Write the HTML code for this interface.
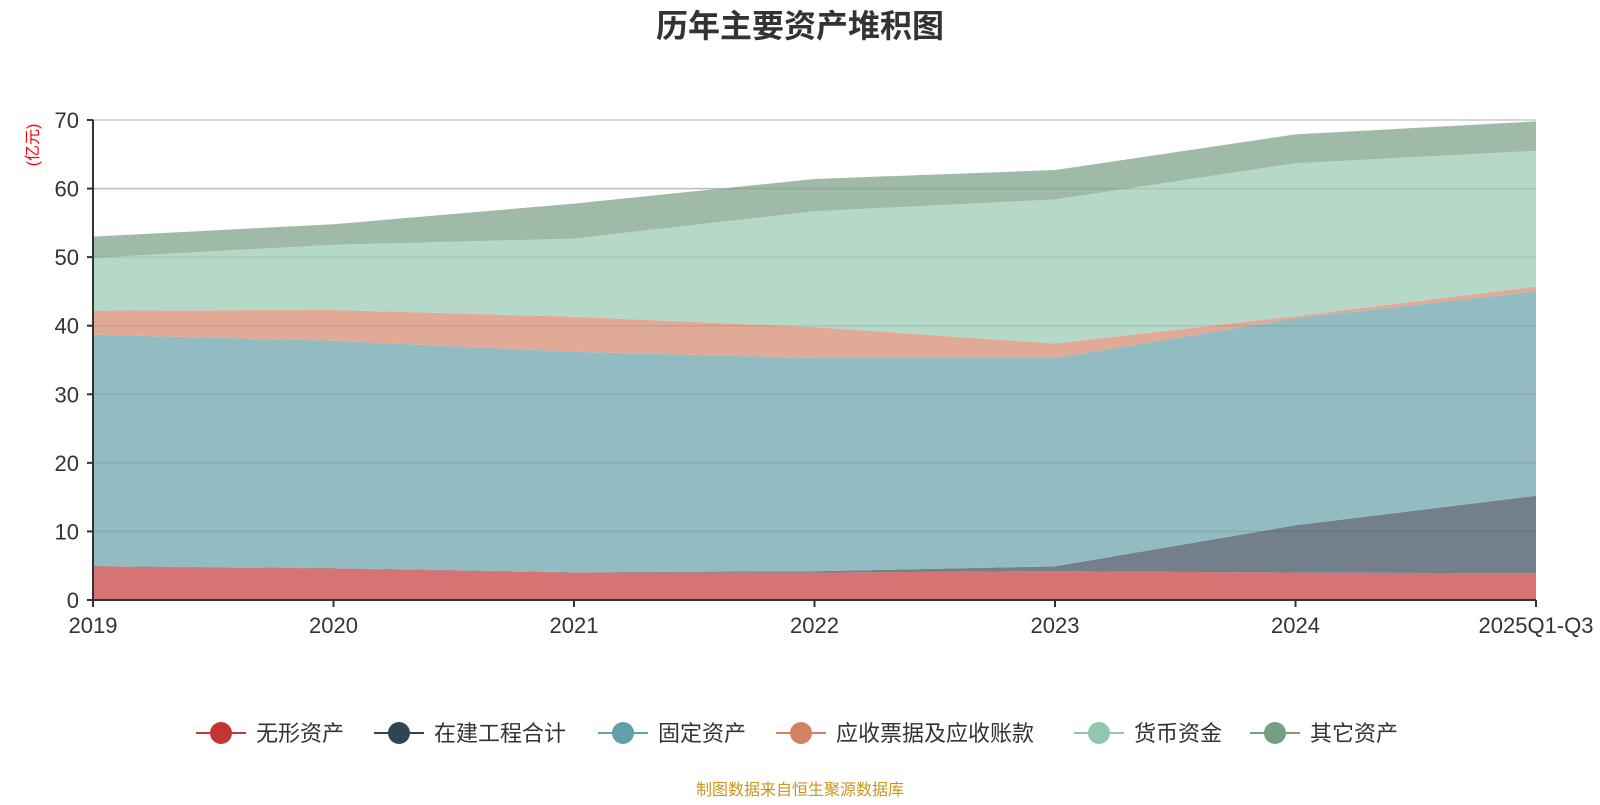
<!DOCTYPE html>
<html><head><meta charset="utf-8"><style>
body{margin:0;background:#fff;width:1600px;height:800px;overflow:hidden;font-family:"Liberation Sans","Noto Sans CJK SC",sans-serif}
</style></head><body>
<svg id="c" width="1600" height="800" xmlns="http://www.w3.org/2000/svg">
<text x="800" y="37" text-anchor="middle" font-size="32" font-weight="bold" fill="#333" font-family="Liberation Sans, Noto Sans CJK SC, sans-serif">历年主要资产堆积图</text>
<text transform="translate(38,145) rotate(-90)" text-anchor="middle" font-size="16" fill="#f00" font-family="Liberation Sans, Noto Sans CJK SC, sans-serif">(亿元)</text>
<g id="grid"></g><g id="areas"></g><g id="axes"></g><g id="legend"></g>
<text x="800" y="795" text-anchor="middle" font-size="16" fill="#c8961e" font-family="Liberation Sans, Noto Sans CJK SC, sans-serif">制图数据来自恒生聚源数据库</text>
</svg>
<script>
const categories=["2019","2020","2021","2022","2023","2024","2025Q1-Q3"];
const seriesNames=["无形资产","在建工程合计","固定资产","应收票据及应收账款","货币资金","其它资产"];
const s0=[4.9,4.6,4.0,4.0,4.2,4.0,3.9];
const s1=[0.05,0.05,0.05,0.2,0.7,6.9,11.3];
const s2=[33.75,33.15,32.15,31.1,30.4,30.2,29.8];
const s3=[3.5,4.5,5.1,4.5,2.1,0.3,0.7];
const s4=[7.7,9.5,11.4,16.9,21.0,22.3,19.8];
const s5=[3.1,3.0,5.1,4.7,4.3,4.2,4.3];
const yTicks=[0,10,20,30,40,50,60,70];
const series=[s0,s1,s2,s3,s4,s5];
const fills=["#d4706e","#6e7b87","#90b9c0","#e0a793","#b3d7c6","#9db8a5"];
const icons=["#c23531","#2f4554","#61a0a8","#d48265","#91c7ae","#749f83"];
const X0=93,X1=1536,Y0=600,Y1=120,YMAX=70;
const NS="http://www.w3.org/2000/svg";
const xs=i=>X0+(X1-X0)*i/(categories.length-1);
const ys=v=>Y0-(Y0-Y1)*v/YMAX;
function mk(t,a,p){const e=document.createElementNS(NS,t);for(const k in a)e.setAttribute(k,a[k]);p.appendChild(e);return e;}
const grid=document.getElementById('grid'),areas=document.getElementById('areas'),axes=document.getElementById('axes'),leg=document.getElementById('legend');
yTicks.forEach(t=>{
 if(t>0){const l=mk('line',{x1:X0,x2:X1,y1:ys(t),y2:ys(t),stroke:'#ccc','stroke-width':1.5},grid);
 
 }
 const tx=mk('text',{x:X0-14,y:ys(t)+8,'text-anchor':'end','font-size':22,fill:'#333','font-family':'Liberation Sans, sans-serif'},axes);
 tx.textContent=t;
 
 
 mk('line',{x1:X0-6,x2:X0,y1:ys(t),y2:ys(t),stroke:'#333','stroke-width':2},axes);
});
let base=categories.map(()=>0);
series.forEach((s,k)=>{
 const top=base.map((b,i)=>b+s[i]);
 let d='M'+top.map((v,i)=>xs(i)+','+ys(v)).join(' L');
 for(let i=categories.length-1;i>=0;i--)d+=' L'+xs(i)+','+ys(base[i]);
 const p=mk('path',{d:d+'Z',fill:fills[k],'fill-opacity':0.97},areas);
 
 
 base=top;
});
// grid over areas (faint)
yTicks.forEach(t=>{if(t>0&&t<70)mk('line',{x1:X0,x2:X1,y1:ys(t),y2:ys(t),stroke:'#000','stroke-opacity':0.08,'stroke-width':1.5},areas);});
mk('line',{x1:X0,x2:X0,y1:Y1,y2:Y0,stroke:'#333','stroke-width':2},axes);
mk('line',{x1:X0,x2:X1,y1:Y0,y2:Y0,stroke:'#333','stroke-width':2},axes);
categories.forEach((c,i)=>{
 mk('line',{x1:xs(i),x2:xs(i),y1:Y0,y2:Y0+7,stroke:'#333','stroke-width':2},axes);
 const tx=mk('text',{x:xs(i),y:Y0+33,'text-anchor':'middle','font-size':22,fill:'#333','font-family':'Liberation Sans, sans-serif'},axes);
 tx.textContent=c;
 
 
});
const legX=[196,374,598,776,1074,1250];
seriesNames.forEach((n,k)=>{
 const g=mk('g',{},leg);
 
 
 const x=legX[k],y=733;
 mk('line',{x1:x,x2:x+50,y1:y,y2:y,stroke:icons[k],'stroke-width':2},g);
 mk('circle',{cx:x+25,cy:y,r:11,fill:icons[k]},g);
 const t=mk('text',{x:x+60,y:y+8,'font-size':22,fill:'#333','font-family':'Liberation Sans, Noto Sans CJK SC, sans-serif'},g);
 t.textContent=n;
});
</script>
</body></html>
